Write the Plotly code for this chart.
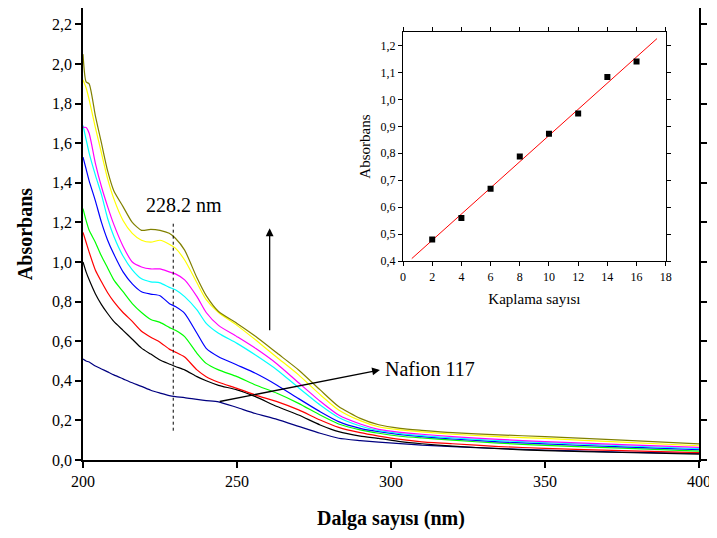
import numpy as np
import plotly.graph_objects as go

# UV spectra (absorbance vs wavelength, nm)
wavelength = [200, 201, 202, 204, 206, 208, 210, 213, 216, 219, 222, 225, 228, 230, 233, 237,
              240, 244, 250, 256, 263, 270, 277, 283, 290, 296, 303, 310, 320, 335, 350, 375, 400]

nafion_117 = [0.51, 0.50, 0.495, 0.475, 0.46, 0.445, 0.43, 0.41, 0.39, 0.372, 0.352, 0.338, 0.325, 0.32, 0.315, 0.306,
              0.30, 0.294, 0.265, 0.235, 0.205, 0.17, 0.135, 0.11, 0.098, 0.09, 0.083, 0.075, 0.068, 0.058, 0.05, 0.04, 0.033]
kat_2 = [1.00, 0.95, 0.91, 0.84, 0.785, 0.74, 0.70, 0.655, 0.61, 0.565, 0.535, 0.505, 0.485, 0.472, 0.455, 0.421,
         0.40, 0.377, 0.354, 0.32, 0.27, 0.227, 0.177, 0.143, 0.121, 0.109, 0.093, 0.082, 0.07, 0.057, 0.047, 0.038, 0.030]
kat_4 = [1.15, 1.10, 1.05, 0.96, 0.90, 0.845, 0.80, 0.745, 0.70, 0.65, 0.62, 0.595, 0.56, 0.545, 0.52, 0.455,
         0.421, 0.393, 0.362, 0.328, 0.295, 0.253, 0.202, 0.165, 0.138, 0.121, 0.104, 0.092, 0.082, 0.068, 0.059, 0.047, 0.037]
kat_6 = [1.27, 1.21, 1.16, 1.10, 1.03, 0.97, 0.91, 0.85, 0.79, 0.745, 0.71, 0.695, 0.67, 0.655, 0.623, 0.539,
         0.488, 0.455, 0.421, 0.379, 0.337, 0.286, 0.227, 0.182, 0.152, 0.135, 0.12, 0.111, 0.10, 0.085, 0.074, 0.06, 0.045]
kat_8 = [1.53, 1.47, 1.41, 1.31, 1.20, 1.11, 1.04, 0.95, 0.89, 0.85, 0.838, 0.83, 0.791, 0.775, 0.741, 0.64,
         0.564, 0.522, 0.48, 0.438, 0.378, 0.31, 0.244, 0.194, 0.16, 0.143, 0.128, 0.118, 0.106, 0.092, 0.081, 0.066, 0.052]
kat_10 = [1.69, 1.62, 1.55, 1.44, 1.34, 1.22, 1.13, 1.03, 0.96, 0.915, 0.90, 0.895, 0.872, 0.86, 0.825, 0.758,
          0.69, 0.64, 0.589, 0.53, 0.455, 0.365, 0.278, 0.215, 0.172, 0.148, 0.133, 0.123, 0.112, 0.098, 0.088, 0.072, 0.057]
kat_12 = [1.68, 1.68, 1.65, 1.50, 1.38, 1.28, 1.19, 1.08, 1.00, 0.975, 0.965, 0.965, 0.95, 0.94, 0.91, 0.825,
          0.745, 0.68, 0.623, 0.564, 0.485, 0.39, 0.297, 0.227, 0.182, 0.155, 0.14, 0.13, 0.118, 0.104, 0.093, 0.078, 0.064]
kat_14 = [1.92, 1.88, 1.82, 1.68, 1.55, 1.42, 1.32, 1.21, 1.145, 1.11, 1.10, 1.11, 1.09, 1.07, 1.01, 0.895,
          0.81, 0.745, 0.68, 0.607, 0.518, 0.43, 0.33, 0.253, 0.199, 0.168, 0.152, 0.142, 0.13, 0.118, 0.109, 0.09, 0.072]
kat_16 = [2.05, 1.91, 1.90, 1.74, 1.60, 1.46, 1.36, 1.28, 1.20, 1.16, 1.165, 1.16, 1.145, 1.12, 1.06, 0.92,
          0.83, 0.75, 0.69, 0.625, 0.54, 0.455, 0.354, 0.27, 0.21, 0.178, 0.16, 0.15, 0.138, 0.127, 0.118, 0.10, 0.081]

# inset: absorbance at the 228.2 nm band vs number of coatings
kaplama = [2, 4, 6, 8, 10, 12, 14, 16]
absorbans_228 = [0.48, 0.56, 0.668, 0.788, 0.872, 0.948, 1.083, 1.14]

spectra = [
    (nafion_117, "#000080"),
    (kat_2, "#000000"),
    (kat_4, "#FF0000"),
    (kat_6, "#00FF00"),
    (kat_8, "#0000FF"),
    (kat_10, "#00FFFF"),
    (kat_12, "#FF00FF"),
    (kat_14, "#FFFF00"),
    (kat_16, "#808000"),
]

fig = go.Figure()
for values, color in spectra:
    fig.add_trace(go.Scatter(x=wavelength, y=values, mode="lines",
                             line=dict(color=color, width=1.2, shape="spline", smoothing=0.6)))

slope, intercept = np.polyfit(kaplama, absorbans_228, 1)
fit_x = np.array([0.6, 17.4])
fig.add_trace(go.Scatter(x=fit_x, y=slope * fit_x + intercept, mode="lines",
                         line=dict(color="red", width=1), xaxis="x2", yaxis="y2"))
fig.add_trace(go.Scatter(x=kaplama, y=absorbans_228, mode="markers",
                         marker=dict(symbol="square", size=6, color="black"), xaxis="x2", yaxis="y2"))

peak_nm = 229.3
fig.add_shape(type="line", x0=peak_nm, x1=peak_nm, y0=0.148, y1=1.2, xref="x", yref="y",
              line=dict(color="black", width=1, dash="3px,3px"))

fig.add_annotation(x=232.8, y=1.29, text="228.2 nm", showarrow=False, font=dict(size=20))
fig.add_annotation(x=260.6, y=1.17, ax=260.6, ay=0.648, axref="x", ayref="y", text="",
                   showarrow=True, arrowhead=2, arrowsize=1.2, arrowwidth=1.3, arrowcolor="black")
fig.add_annotation(x=296.4, y=0.455, ax=243.9, ay=0.294, axref="x", ayref="y", text="",
                   showarrow=True, arrowhead=2, arrowsize=1.2, arrowwidth=1.3, arrowcolor="black")
fig.add_annotation(x=297.5, y=0.462, text="Nafion 117", showarrow=False, xanchor="left",
                   font=dict(size=20))

axis_style = dict(showgrid=False, zeroline=False, ticks="outside", linecolor="black",
                  tickcolor="black", mirror="ticks", automargin=False)

# the page body adds an 8px offset, so the margins are shifted to compensate
fig.update_layout(
    width=717, height=538,
    margin=dict(l=75, r=26, t=0, b=86),
    paper_bgcolor="white", plot_bgcolor="white",
    showlegend=False,
    separators=",.",
    font=dict(family="Liberation Serif", color="black"),
    xaxis=dict(range=[200, 400], tickvals=[200, 250, 300, 350, 400], ticklen=6, tickwidth=1.5,
               linewidth=1.5, tickfont=dict(size=16),
               title=dict(text="Dalga sayısı (nm)", font=dict(size=20, weight="bold"), standoff=22),
               **axis_style),
    yaxis=dict(range=[0, 2.283], dtick=0.2, tick0=0, tickformat=".1f", ticklen=6, tickwidth=1.5,
               linewidth=1.5, tickfont=dict(size=16),
               title=dict(text="Absorbans", font=dict(size=20, weight="bold"), standoff=14),
               **axis_style),
    xaxis2=dict(domain=[0.5195, 0.946], anchor="y2", range=[0, 18], dtick=2, tick0=0,
                ticklen=4, tickwidth=1, linewidth=1, tickfont=dict(size=12),
                title=dict(text="Kaplama sayısı", font=dict(size=15), standoff=10),
                **axis_style),
    yaxis2=dict(domain=[0.440, 0.947], anchor="x2", range=[0.4, 1.25], dtick=0.1, tick0=0.4,
                tickformat=".1f", ticklen=4, tickwidth=1, linewidth=1, tickfont=dict(size=12),
                title=dict(text="Absorbans", font=dict(size=15), standoff=6),
                **axis_style),
)

fig.write_html("out.html")
